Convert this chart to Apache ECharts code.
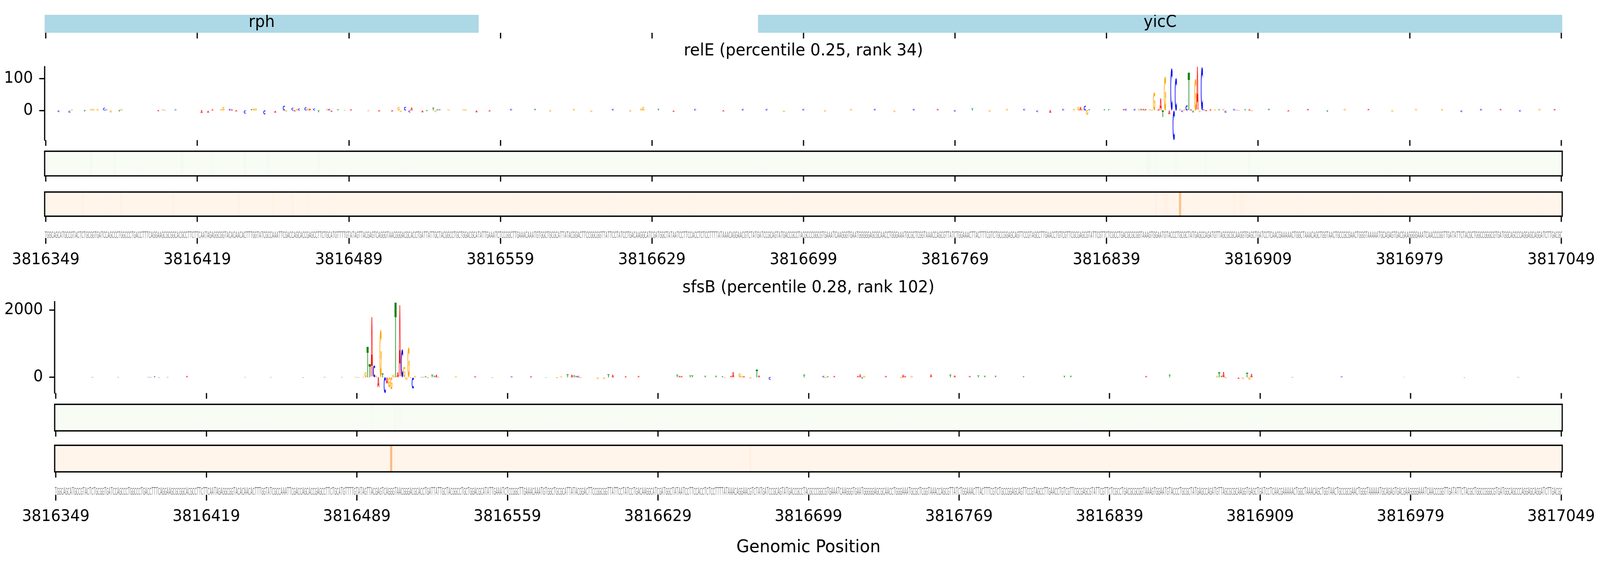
<!DOCTYPE html>
<html>
<head>
<meta charset="utf-8">
<script src="https://cdn.jsdelivr.net/npm/echarts@6.0.0/dist/echarts.min.js"></script>
<style>
html,body{margin:0;padding:0;background:#ffffff;overflow:hidden;}
#c{width:4320px;height:1440px;transform-origin:0 0;}
</style>
</head>
<body>
<div id="c"></div>
<script>
// ---------------- data ----------------
const startPos = 3816349;
const seqParts = [
  "TGGCAGCATGCCGTACTCTGCGGTGATCCAGCCCTGGCCCTGACCTTTCAGGAAGCGCGGCACGCCTTCTTCAATAGAGGCGGTACACAACACTTTGGTATCGCCAAATTCGACCAGCACCGAGCCTTCTGCATGTTTT",
  "GTATAGTTACGAGTCAGGGTAACGGGACGCACCTGATTATTGCTACGGCCTGCTGGACGCATATTGAAATCTCCGGCTTGAAACAAATGTGGCTGCGCATTATACGGACTTCCGGCGGTTATTCCTATCCTGACAAGGCATC",
  "GATGGCTATAATCCTTCCACCTCTCCTTTTATAAACAGGAACGTCTATGATCCGCAGTATGACCGCCTACGCCCGGCGTGAAATCAAGGGTGAATGGGGGAGCGCAACCTGGGAAATGCGCTCGGTAAACCAGCGTTATCT",
  "GGAAACTTACTTTCGTCTGCCGGAGCAGTTCCGTAGCCTTGAACCTGTCGTTCGCGAGCGTATTCGTTCTCGCCTGACGCGCGGTAAAGTGGAATGTACCCTGCGCTATGAGCCAGATGTTAGCGCGCAAGGTGAGCTGA",
  "TCCTCAACGAAAAACTGGCTAAACAGCTGGTAACTGCCGCGAACTGGGTAAAAATGCAGAGTGACGAAGGGGAAATCAACCCGGTTGATATTCTACGCTGGCCGGGCGTGATGGCAGCCCAGGAGCAGGATCTTGACGC"
];
const sequence = seqParts.join('');
const positions = Array.from(sequence, (_, i) => String(startPos + i));
const tickStep = 70;

const geneNames = ['rph', 'yicC'];
const geneStarts = [3816348.5, 3816678];   // visible extent (window edge = .5)
const geneEnds = [3816549, 3817049.5];

const relETitle = 'relE (percentile 0.25, rank 34)';
const sfsBTitle = 'sfsB (percentile 0.28, rank 102)';
const xAxisTitle = 'Genomic Position';

const relEYTicks = [0, 100];
const sfsBYTicks = [0, 2000];

// attribution per position: [index in window, value]
const relEAttr = [
  [6,-5],[11,-7],[12,3],[18,-4],[21,4],[22,4],[24,4],[27,8],[28,3],[30,-6],[34,-4],[35,4],
  [52,-3],[54,3],[55,2],[60,3],[72,-9],[75,-7],[77,3],[81,4],[82,12],[85,5],[86,3],[88,-4],
  [92,-10],[95,3],[96,6],[97,6],[101,-13],[106,-7],[110,14],[111,-4],[114,8],[115,-4],[116,5],
  [117,6],[120,9],[121,7],[122,7],[124,6],[126,-6],[130,5],[131,5],[132,-5],[135,3],[138,2],
  [141,3],[149,-3],[154,-4],[160,-4],[163,11],[164,-5],[166,11],[168,-6],[169,10],[174,-6],
  [176,-3],[179,8],[180,-5],[181,3],[182,3],[186,3],[193,3],[194,3],[199,-6],
  [205,-4],[215,4],[226,5],[233,-4],[244,4],[252,-5],[262,4],[270,-4],[275,6],[276,12],[283,4],
  [290,-5],[300,4],[313,-4],[322,5],[333,4],[341,-5],[350,5],[360,-4],[372,5],[383,4],[392,-5],
  [401,5],[412,4],[420,-4],[428,6],[436,-4],[444,5],[452,4],[458,-5],[464,-8],[470,4],
  [475,4],[477,12],[478,11],[479,3],[480,15],[481,-14],[482,3],[489,3],[491,3],[498,4],[499,4],
  [503,4],[505,5],[506,4],[507,4],[508,4],[510,3],[511,2],[512,56],[513,2],[514,3],[515,37],
  [516,-21],[517,107],[519,-13],[520,133],[521,-93],[522,103],[524,4],[525,-5],[526,3],[527,16],
  [528,119],[529,3],[530,-7],[531,101],[532,137],[533,-5],[534,135],[535,3],[536,-3],[538,3],
  [540,3],[542,3],[544,4],[545,-7],[549,4],[550,2],[551,2],[554,3],[556,3],[557,-3],
  [565,4],[574,-4],[583,4],[592,-5],[600,5],[611,4],[622,-4],[633,5],[645,4],[654,-5],
  [663,4],[672,5],[681,-4],[690,5],[697,4]
];
const sfsBAttr = [
  [17,10],[29,10],[43,15],[44,15],[46,31],[48,-10],[52,15],[61,37],
  [88,12],[100,15],[115,-10],[125,18],[133,20],
  [139,10],[140,15],[141,-12],[143,12],[144,155],[145,913],[146,389],[147,1787],[148,350],[149,40],
  [150,-299],[151,1406],[152,125],[153,-466],[154,-186],[155,-299],[156,-357],[157,78],[158,2245],
  [159,148],[160,2136],[161,835],[162,311],[163,-78],[164,893],[165,-15],[166,-330],[167,50],
  [170,15],[171,20],[172,30],[173,-25],[175,80],[176,40],[177,80],[178,15],
  [186,25],[195,30],[203,-20],[212,25],[221,30],[228,-20],
  [233,-30],[235,30],[238,85],[240,70],[241,55],[242,40],[243,45],[244,-30],[252,-45],[255,-45],
  [257,90],[259,70],[265,30],[271,45],[289,70],[290,50],[291,50],[295,55],[296,55],[302,40],
  [307,40],[310,30],[311,-20],[314,50],[315,163],[318,126],[319,40],[320,30],[323,-39],[326,222],
  [327,60],[332,-77],[348,78],[357,40],[358,-25],[359,35],[362,40],[373,40],[374,90],[375,-50],
  [376,40],[386,50],[393,-30],[394,70],[395,40],[398,40],[407,90],[416,70],[418,55],[425,50],
  [429,55],[432,50],[437,50],[450,30],[469,45],[472,40],[507,45],[518,70],[540,50],[541,155],
  [542,50],[543,165],[544,-30],[550,-50],[552,-47],[554,140],[555,-77],[556,105],
  [575,20],[598,25],[627,20],[655,-15],[680,20]
];

// heatmap tracks: [index, value in 0..1]
const relEGreen = [[21,0.03],[32,0.03],[63,0.03],[77,0.02],[92,0.03],[103,0.02],[126,0.02],
  [509,0.03],[510,0.03],[513,0.02],[522,0.02],[536,0.02],[556,0.02]];
const relEOrange = [[17,0.03],[35,0.03],[59,0.03],[89,0.03],[105,0.02],[114,0.03],[121,0.02],
  [513,0.03],[517,0.03],[518,0.03],[549,0.02],[552,0.02],[553,0.02],[524,0.30]];
const sfsBGreen = [[147,0.02],[158,0.02],[160,0.02]];
const sfsBOrange = [[156,0.33],[323,0.04]];

// ---------------- styles ----------------
const GREENS = ['#f7fcf5','#e5f5e0','#c7e9c0','#a1d99b','#74c476','#41ab5d','#238b45','#006d2c','#00441b'];
const ORANGES = ['#fff5eb','#fee6ce','#fdd0a2','#fdae6b','#fd8d3c','#f16913','#d94801','#a63603','#7f2704'];
const baseColors = {A:'#ff0000', C:'#0000ff', G:'#ffa500', T:'#008000'};
const LOGO_FONT = 'bold 100px "DejaVu Sans"';
const SEQ_FONT = '100px "DejaVu Sans"';
const SEQ_COLOR = '#808080';
const FF = 'DejaVu Sans';
const LW = 3.3, TL = 14.6;
const XLABEL_MARGIN = 36;

const L1 = 120.5, W1 = 4097.5, L2 = 147.6, W2 = 4070.4;
const gridDefs = [
  {left:L1, width:W1, top:38,    height:46},    // 0 genes
  {left:L1, width:W1, top:170.7, height:188.3}, // 1 logo relE
  {left:L1, width:W1, top:387.5, height:63.2},  // 2 green relE
  {left:L1, width:W1, top:492,   height:62},    // 3 orange relE
  {left:L1, width:W1, top:593,   height:17},    // 4 seq relE
  {left:L2, width:W2, top:772.7, height:234.3}, // 5 logo sfsB
  {left:L2, width:W2, top:1036,  height:68},    // 6 green sfsB
  {left:L2, width:W2, top:1141,  height:68},    // 7 orange sfsB
  {left:L2, width:W2, top:1249,  height:19}     // 8 seq sfsB
];
const kinds = ['gene','logo','heat','heat','seq','logo','heat','heat','seq'];

// ---------------- glyph helper ----------------
const mctx = document.createElement('canvas').getContext('2d');
const mcache = {};
function gm(ch, font) {
  const k = font + '|' + ch;
  if (!mcache[k]) {
    mctx.font = font; mctx.textAlign = 'center'; mctx.textBaseline = 'middle';
    const m = mctx.measureText(ch);
    mcache[k] = {a:m.actualBoundingBoxAscent, d:m.actualBoundingBoxDescent,
                 l:m.actualBoundingBoxLeft, r:m.actualBoundingBoxRight};
  }
  return mcache[k];
}
function glyph(ch, x0, yTop, w, h, fill, font) {
  const m = gm(ch, font);
  const sx = w / (m.l + m.r), sy = h / (m.a + m.d);
  return {
    type:'text', silent:true,
    x: x0 + sx * m.l, y: yTop + sy * m.a, scaleX: sx, scaleY: sy,
    style:{text:ch, font:font, fill:fill, align:'center', verticalAlign:'middle',
           textAlign:'center', textVerticalAlign:'middle'}
  };
}

function logoRender(params, api) {
  const idx = api.value(0), v = api.value(1);
  const ch = sequence[idx];
  const p0 = api.coord([idx, 0]), p1 = api.coord([idx, v]);
  const bw = api.size([1, 0])[0];
  const w = bw * 0.95;
  const h = Math.abs(p1[1] - p0[1]);
  if (h < 0.2) return null;
  return glyph(ch, p0[0] - w / 2, Math.min(p0[1], p1[1]), w, h, baseColors[ch], LOGO_FONT);
}
function seqRender(params, api) {
  const idx = api.value(0);
  const ch = sequence[idx];
  const t = api.coord([idx, 1]), b = api.coord([idx, 0]);
  const bw = api.size([1, 0])[0];
  const w = bw * 0.9;
  return glyph(ch, t[0] - w / 2, t[1], w, b[1] - t[1], SEQ_COLOR, SEQ_FONT);
}
function geneRender(params, api) {
  const k = api.value(0);
  const bw = api.size([1, 0])[0];
  const c0 = api.coord([0, 0])[0];
  const s = Math.max(geneStarts[k] - startPos, -0.5), e = Math.min(geneEnds[k] - startPos, sequence.length - 0.5);
  const x0 = c0 + s * bw, x1 = c0 + e * bw;
  const yT = api.coord([0, 1])[1], yB = api.coord([0, 0])[1];
  return {type:'group', children:[
    {type:'rect', shape:{x:x0, y:yT, width:x1 - x0, height:yB - yT}, style:{fill:'#add8e6'}},
    {type:'text', x:(x0 + x1) / 2, y:(yT + yB) / 2 - 2.5,
     style:{text:geneNames[k], font:'42px "DejaVu Sans"', fill:'#000', align:'center', verticalAlign:'middle',
            textAlign:'center', textVerticalAlign:'middle'}}
  ]};
}

function fullTrack(sparse) {
  const arr = positions.map((_, i) => [i, 0, 0]);
  sparse.forEach(([i, v]) => { arr[i][2] = v; });
  return arr;
}
const every = (i) => i % tickStep === 0;

// ---------------- option ----------------
const grids = gridDefs.map((g, i) => Object.assign({
  outerBoundsMode:'none', containLabel:false,
  show: kinds[i] === 'heat', borderColor:'#000', borderWidth:LW, backgroundColor:'transparent', z:5
}, g));

const xAxes = gridDefs.map((g, i) => ({
  type:'category', gridIndex:i, data:positions, boundaryGap:true,
  axisLine:{show:false, onZero:false},
  axisTick:{show:true, alignWithLabel:true, interval:every, length:TL, inside:false,
            lineStyle:{color:'#000', width:LW}},
  axisLabel:{show: kinds[i] === 'seq', interval:every, fontSize:41, fontFamily:FF, color:'#000',
             margin:XLABEL_MARGIN},
  splitLine:{show:false}, axisPointer:{show:false}
}));

function logoY(i, attr, ticks) {
  const vals = attr.map(d => d[1]);
  return {
    type:'value', gridIndex:i, min:Math.min(...vals), max:Math.max(...vals),
    axisLine:{show:true, onZero:false, lineStyle:{color:'#000', width:LW}},
    axisTick:{show:true, length:TL, customValues:ticks, lineStyle:{color:'#000', width:LW}},
    axisLabel:{show:true, customValues:ticks, fontSize:41, fontFamily:FF, color:'#000', margin:31.5,
               formatter:(v) => String(v)},
    splitLine:{show:false}
  };
}
const yAxes = gridDefs.map((g, i) => {
  if (i === 1) return logoY(i, relEAttr, relEYTicks);
  if (i === 5) return logoY(i, sfsBAttr, sfsBYTicks);
  if (kinds[i] === 'heat') return {type:'category', gridIndex:i, data:['0'], show:false};
  return {type:'value', gridIndex:i, min:0, max:1, show:false};
});

const series = [
  {type:'custom', name:'genes', xAxisIndex:0, yAxisIndex:0, renderItem:geneRender, silent:true, clip:true,
   data:geneNames.map((n, k) => [k, 0.5]), encode:{x:0, y:1}},
  {type:'custom', name:'relE logo', xAxisIndex:1, yAxisIndex:1, renderItem:logoRender, silent:true, clip:true,
   data:relEAttr, encode:{x:0, y:1}},
  {type:'heatmap', name:'relE green', xAxisIndex:2, yAxisIndex:2, data:fullTrack(relEGreen), silent:true,
   itemStyle:{borderWidth:0}},
  {type:'heatmap', name:'relE orange', xAxisIndex:3, yAxisIndex:3, data:fullTrack(relEOrange), silent:true,
   itemStyle:{borderWidth:0}},
  {type:'custom', name:'relE seq', xAxisIndex:4, yAxisIndex:4, renderItem:seqRender, silent:true, clip:false,
   data:positions.map((_, i) => [i, 1]), encode:{x:0, y:1}},
  {type:'custom', name:'sfsB logo', xAxisIndex:5, yAxisIndex:5, renderItem:logoRender, silent:true, clip:true,
   data:sfsBAttr, encode:{x:0, y:1}},
  {type:'heatmap', name:'sfsB green', xAxisIndex:6, yAxisIndex:6, data:fullTrack(sfsBGreen), silent:true,
   itemStyle:{borderWidth:0}},
  {type:'heatmap', name:'sfsB orange', xAxisIndex:7, yAxisIndex:7, data:fullTrack(sfsBOrange), silent:true,
   itemStyle:{borderWidth:0}},
  {type:'custom', name:'sfsB seq', xAxisIndex:8, yAxisIndex:8, renderItem:seqRender, silent:true, clip:false,
   data:positions.map((_, i) => [i, 1]), encode:{x:0, y:1}}
];

const vm = (si, colors) => ({type:'continuous', show:false, seriesIndex:si, min:0, max:1, dimension:2,
                             inRange:{color:colors}});

const option = {
  animation:false,
  backgroundColor:'#ffffff',
  textStyle:{fontFamily:FF},
  tooltip:{show:false},
  grid:grids, xAxis:xAxes, yAxis:yAxes, series:series,
  visualMap:[vm(2, GREENS), vm(3, ORANGES), vm(6, GREENS), vm(7, ORANGES)],
  graphic:[
    {type:'text', x:L1 + W1 / 2, y:131, silent:true,
     style:{text:relETitle, font:'43px "DejaVu Sans"', fill:'#000', align:'center', verticalAlign:'middle'}},
    {type:'text', x:L2 + W2 / 2, y:738, silent:true,
     style:{text:sfsBTitle, font:'43px "DejaVu Sans"', fill:'#000', align:'center', verticalAlign:'middle'}},
    {type:'text', x:L2 + W2 / 2, y:1403, silent:true,
     style:{text:xAxisTitle, font:'45px "DejaVu Sans"', fill:'#000', align:'center', verticalAlign:'middle'}}
  ]
};

// fit the 4320x1440 drawing into the actual viewport
const box = document.getElementById('c');
const vw = document.documentElement.clientWidth || window.innerWidth || 4320;
const vh = document.documentElement.clientHeight || window.innerHeight || 1440;
if (Math.abs(vw - 4320) > 1 || Math.abs(vh - 1440) > 1) {
  box.style.transform = 'scale(' + (vw / 4320) + ',' + (vh / 1440) + ')';
}

const chart = echarts.init(box, null, {renderer:'canvas', width:4320, height:1440});
chart.setOption(option);
</script>
</body>
</html>
